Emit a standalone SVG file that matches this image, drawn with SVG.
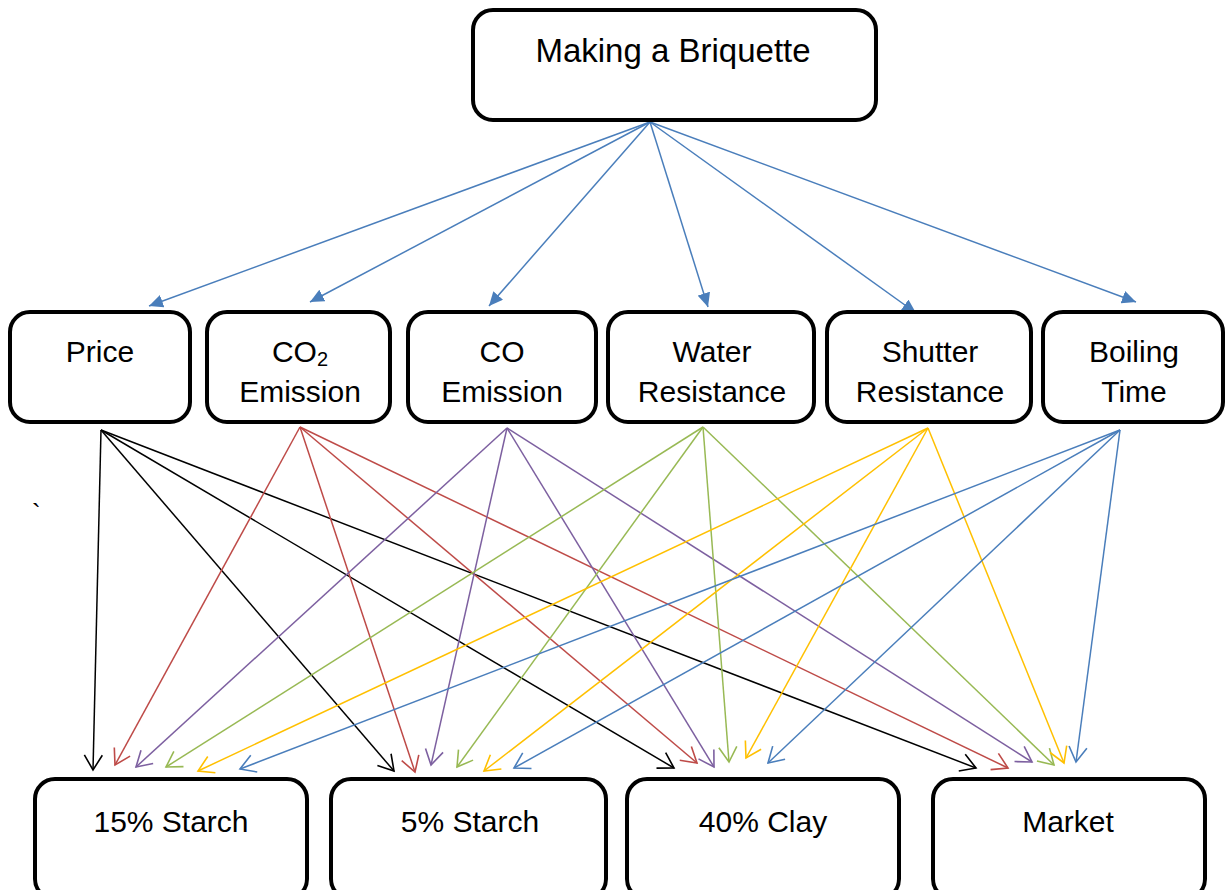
<svg xmlns="http://www.w3.org/2000/svg" width="1227" height="890" viewBox="0 0 1227 890">
<style>
.box{fill:#fff;stroke:#000;stroke-width:4}
.t{font-family:"Liberation Sans",Arial,sans-serif;font-size:30px;fill:#000;text-anchor:middle}
.c line{stroke-width:1.5;fill:none}
.bl{stroke:#4A7EBB}
.k{stroke:#000}
.r{stroke:#BE4B48}
.p{stroke:#7D60A0}
.g{stroke:#98B954}
.y{stroke:#FFC000}
</style>
<defs>
<marker id="mTop" markerUnits="userSpaceOnUse" markerWidth="15" markerHeight="13" refX="14" refY="6.5" orient="auto"><path d="M0,0 L14,6.5 L0,13 Z" fill="#4A7EBB"/></marker>
<marker id="mk" markerUnits="userSpaceOnUse" markerWidth="18" markerHeight="20" refX="16" refY="10" orient="auto"><path d="M1,1 L16,10 L1,19" fill="none" stroke="#000" stroke-width="1.6"/></marker>
<marker id="mr" markerUnits="userSpaceOnUse" markerWidth="18" markerHeight="20" refX="16" refY="10" orient="auto"><path d="M1,1 L16,10 L1,19" fill="none" stroke="#BE4B48" stroke-width="1.6"/></marker>
<marker id="mp" markerUnits="userSpaceOnUse" markerWidth="18" markerHeight="20" refX="16" refY="10" orient="auto"><path d="M1,1 L16,10 L1,19" fill="none" stroke="#7D60A0" stroke-width="1.6"/></marker>
<marker id="mg" markerUnits="userSpaceOnUse" markerWidth="18" markerHeight="20" refX="16" refY="10" orient="auto"><path d="M1,1 L16,10 L1,19" fill="none" stroke="#98B954" stroke-width="1.6"/></marker>
<marker id="my" markerUnits="userSpaceOnUse" markerWidth="18" markerHeight="20" refX="16" refY="10" orient="auto"><path d="M1,1 L16,10 L1,19" fill="none" stroke="#FFC000" stroke-width="1.6"/></marker>
<marker id="mb" markerUnits="userSpaceOnUse" markerWidth="18" markerHeight="20" refX="16" refY="10" orient="auto"><path d="M1,1 L16,10 L1,19" fill="none" stroke="#4A7EBB" stroke-width="1.6"/></marker>
</defs>
<rect width="1227" height="890" fill="#fff"/>

<g id="connectors" class="c">
<g class="bl">
<line x1="650" y1="122" x2="149" y2="306" marker-end="url(#mTop)"/>
<line x1="650" y1="122" x2="310" y2="302" marker-end="url(#mTop)"/>
<line x1="650" y1="122" x2="489" y2="306" marker-end="url(#mTop)"/>
<line x1="650" y1="122" x2="708" y2="307" marker-end="url(#mTop)"/>
<line x1="650" y1="122" x2="916" y2="313" marker-end="url(#mTop)"/>
<line x1="650" y1="122" x2="1136" y2="302" marker-end="url(#mTop)"/>
</g>
<g class="k">
<line x1="101" y1="430" x2="93" y2="770" marker-end="url(#mk)"/>
<line x1="101" y1="430" x2="394" y2="771" marker-end="url(#mk)"/>
<line x1="101" y1="430" x2="674" y2="768" marker-end="url(#mk)"/>
<line x1="101" y1="430" x2="976" y2="768" marker-end="url(#mk)"/>
</g>
<g class="r">
<line x1="300" y1="427" x2="115" y2="765" marker-end="url(#mr)"/>
<line x1="300" y1="427" x2="415" y2="772" marker-end="url(#mr)"/>
<line x1="300" y1="427" x2="697" y2="763" marker-end="url(#mr)"/>
<line x1="300" y1="427" x2="1008" y2="768" marker-end="url(#mr)"/>
</g>
<g class="p">
<line x1="507" y1="428" x2="136" y2="767" marker-end="url(#mp)"/>
<line x1="507" y1="428" x2="431" y2="765" marker-end="url(#mp)"/>
<line x1="507" y1="428" x2="714" y2="767" marker-end="url(#mp)"/>
<line x1="507" y1="428" x2="1032" y2="762" marker-end="url(#mp)"/>
</g>
<g class="g">
<line x1="703" y1="427" x2="166" y2="767" marker-end="url(#mg)"/>
<line x1="703" y1="427" x2="457" y2="767" marker-end="url(#mg)"/>
<line x1="703" y1="427" x2="729" y2="762" marker-end="url(#mg)"/>
<line x1="703" y1="427" x2="1054" y2="765" marker-end="url(#mg)"/>
</g>
<g class="y">
<line x1="928" y1="428" x2="198" y2="771" marker-end="url(#my)"/>
<line x1="928" y1="428" x2="484" y2="771" marker-end="url(#my)"/>
<line x1="928" y1="428" x2="746" y2="758" marker-end="url(#my)"/>
<line x1="928" y1="428" x2="1064" y2="763" marker-end="url(#my)"/>
</g>
<g class="bl">
<line x1="1120" y1="430" x2="240" y2="769" marker-end="url(#mb)"/>
<line x1="1120" y1="430" x2="514" y2="768" marker-end="url(#mb)"/>
<line x1="1120" y1="430" x2="768" y2="763" marker-end="url(#mb)"/>
<line x1="1120" y1="430" x2="1076" y2="762" marker-end="url(#mb)"/>
</g>
</g>

<g id="n-top"><rect class="box" x="473" y="10" width="403" height="110" rx="20"/><text class="t" x="673" y="62" style="font-size:33px">Making a Briquette</text></g>

<g id="n-price"><rect class="box" x="10" y="312" width="180" height="110" rx="20"/><text class="t" x="100" y="362">Price</text></g>
<g id="n-co2"><rect class="box" x="207" y="312" width="183" height="110" rx="20"/><text class="t" x="300" y="362">CO<tspan style="font-size:20px" dy="4">2</tspan></text><text class="t" x="300" y="402">Emission</text></g>
<g id="n-co"><rect class="box" x="408" y="312" width="188" height="110" rx="20"/><text class="t" x="502" y="362">CO</text><text class="t" x="502" y="402">Emission</text></g>
<g id="n-water"><rect class="box" x="608" y="312" width="206" height="110" rx="20"/><text class="t" x="712" y="362">Water</text><text class="t" x="712" y="402">Resistance</text></g>
<g id="n-shutter"><rect class="box" x="827" y="312" width="204" height="110" rx="20"/><text class="t" x="930" y="362">Shutter</text><text class="t" x="930" y="402">Resistance</text></g>
<g id="n-boiling"><rect class="box" x="1043" y="312" width="180" height="110" rx="20"/><text class="t" x="1134" y="362">Boiling</text><text class="t" x="1134" y="402">Time</text></g>

<g id="n-15starch"><rect class="box" x="35" y="779" width="272" height="120" rx="20"/><text class="t" x="171" y="832">15% Starch</text></g>
<g id="n-5starch"><rect class="box" x="331" y="779" width="275" height="120" rx="20"/><text class="t" x="470" y="832">5% Starch</text></g>
<g id="n-clay"><rect class="box" x="627" y="779" width="272" height="120" rx="20"/><text class="t" x="763" y="832">40% Clay</text></g>
<g id="n-market"><rect class="box" x="933" y="779" width="272" height="120" rx="20"/><text class="t" x="1068" y="832">Market</text></g>

<text x="32" y="522" font-family="Liberation Sans, Arial, sans-serif" font-size="26">`</text>
</svg>
